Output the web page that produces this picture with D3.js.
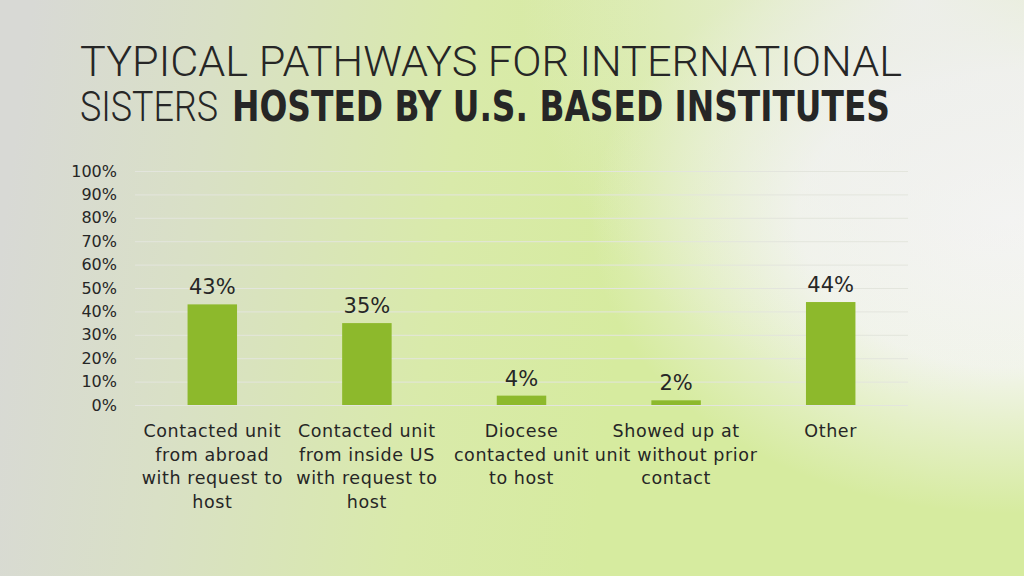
<!DOCTYPE html>
<html>
<head>
<meta charset="utf-8">
<script src="https://cdn.jsdelivr.net/npm/d3@7"></script>
<style>
  html, body { margin: 0; padding: 0; overflow: hidden; }
  body { width: 1024px; height: 576px; }
</style>
</head>
<body>
<script>
// chart data
var categories = [
  ["Contacted unit", "from abroad", "with request to", "host"],
  ["Contacted unit", "from inside US", "with request to", "host"],
  ["Diocese", "contacted unit", "to host"],
  ["Showed up at", "unit without prior", "contact"],
  ["Other"]
];
var values = [0.43, 0.35, 0.04, 0.02, 0.44];
var yTicks = [0, 0.1, 0.2, 0.3, 0.4, 0.5, 0.6, 0.7, 0.8, 0.9, 1.0];
var titleLine1 = "TYPICAL PATHWAYS FOR INTERNATIONAL";
var titleLine2a = "SISTERS";
var titleLine2b = "HOSTED BY U.S. BASED INSTITUTES";

var W = 1024, H = 576;
var font = "'DejaVu Sans', sans-serif";
var lightFont = "Roboto, 'Open Sans', sans-serif";
var boldFont = "'DejaVu Sans Condensed', 'DejaVu Sans', sans-serif";
var ink = "#262626";

var svg = d3.select("body")
            .append("svg")
            .attr("width", W)
            .attr("height", H);

// background //////////////////////////////////////////
var defs = svg.append("defs");

var base = defs.append("linearGradient").attr("id", "bgBase")
  .attr("gradientUnits", "userSpaceOnUse")
  .attr("x1", 0).attr("y1", 250).attr("x2", 620).attr("y2", 330);
base.append("stop").attr("offset", "0").attr("stop-color", "#d8d9d5");
base.append("stop").attr("offset", "0.3").attr("stop-color", "#d9e0c6");
base.append("stop").attr("offset", "0.7").attr("stop-color", "#d9eaaa");
base.append("stop").attr("offset", "1").attr("stop-color", "#d6eb9f");

var glow = defs.append("radialGradient").attr("id", "bgGlow")
  .attr("gradientUnits", "userSpaceOnUse")
  .attr("cx", 1010).attr("cy", 220).attr("r", 420)
  .attr("gradientTransform", "translate(1010,220) scale(1,0.7) translate(-1010,-220)");
glow.append("stop").attr("offset", "0").attr("stop-color", "#f6f6f4").attr("stop-opacity", 1);
glow.append("stop").attr("offset", "0.5").attr("stop-color", "#f4f5f1").attr("stop-opacity", 0.92);
glow.append("stop").attr("offset", "1").attr("stop-color", "#f2f4ec").attr("stop-opacity", 0);

var topFade = defs.append("radialGradient").attr("id", "bgTop")
  .attr("gradientUnits", "userSpaceOnUse")
  .attr("cx", 920).attr("cy", 0).attr("r", 400);
topFade.append("stop").attr("offset", "0").attr("stop-color", "#eeeeee").attr("stop-opacity", 0.9);
topFade.append("stop").attr("offset", "1").attr("stop-color", "#eeeeee").attr("stop-opacity", 0);

svg.append("rect").attr("width", W).attr("height", H).attr("fill", "url(#bgBase)");
svg.append("rect").attr("width", W).attr("height", H).attr("fill", "url(#bgGlow)");
svg.append("rect").attr("width", W).attr("height", H).attr("fill", "url(#bgTop)");

// title ///////////////////////////////////////////////
svg.append("text")
   .attr("x", 80).attr("y", 76)
   .attr("font-family", lightFont)
   .attr("font-weight", 300)
   .attr("font-size", 42)
   .attr("fill", ink)
   .attr("textLength", 822)
   .attr("lengthAdjust", "spacingAndGlyphs")
   .text(titleLine1);

svg.append("text")
   .attr("x", 80).attr("y", 121)
   .attr("font-family", lightFont)
   .attr("font-weight", 300)
   .attr("font-size", 42)
   .attr("fill", ink)
   .attr("textLength", 138)
   .attr("lengthAdjust", "spacingAndGlyphs")
   .text(titleLine2a);

svg.append("text")
   .attr("x", 232).attr("y", 121)
   .attr("font-family", boldFont)
   .attr("font-size", 42)
   .attr("font-weight", "bold")
   .attr("fill", ink)
   .attr("textLength", 658)
   .attr("lengthAdjust", "spacingAndGlyphs")
   .text(titleLine2b);

// chart ///////////////////////////////////////////////
var plot = {left: 135, right: 908, top: 171, bottom: 405};

var x = d3.scaleBand()
          .domain(d3.range(values.length))
          .range([plot.left, plot.right])
          .paddingInner(0.68)
          .paddingOuter(0.34);

var y = d3.scaleLinear()
          .domain([0, 1])
          .range([plot.bottom, plot.top]);

// gridlines
svg.append("g")
   .selectAll("line")
   .data(yTicks)
   .enter()
   .append("line")
   .attr("x1", plot.left)
   .attr("x2", plot.right)
   .attr("y1", function(d) { return y(d) + 0.5; })
   .attr("y2", function(d) { return y(d) + 0.5; })
   .style("stroke", "#e3e5dd")
   .style("stroke-width", 1);

// y axis labels
var yAxis = d3.axisLeft(y)
              .tickValues(yTicks)
              .tickFormat(d3.format(".0%"))
              .tickSize(0)
              .tickPadding(0);

var yg = svg.append("g")
            .attr("transform", "translate(117,0)")
            .call(yAxis);
yg.select(".domain").remove();
yg.selectAll("text")
  .attr("font-family", font)
  .attr("font-size", 16)
  .attr("fill", ink);

// bars
svg.selectAll("rect.bar")
   .data(values)
   .enter()
   .append("rect")
   .attr("class", "bar")
   .attr("x", function(d, i) { return x(i); })
   .attr("y", function(d) { return y(d); })
   .attr("width", x.bandwidth())
   .attr("height", function(d) { return y(0) - y(d); })
   .attr("fill", "#8db92c");

// data labels
svg.selectAll("text.val")
   .data(values)
   .enter()
   .append("text")
   .attr("class", "val")
   .attr("x", function(d, i) { return x(i) + x.bandwidth() / 2; })
   .attr("y", function(d) { return y(d) - 10; })
   .attr("text-anchor", "middle")
   .attr("font-family", font)
   .attr("font-size", 21)
   .attr("fill", ink)
   .text(function(d) { return Math.round(d * 100) + "%"; });

// category labels
var cat = svg.selectAll("text.cat")
   .data(categories)
   .enter()
   .append("text")
   .attr("class", "cat")
   .attr("text-anchor", "middle")
   .attr("font-family", font)
   .attr("font-size", 17.5)
   .attr("letter-spacing", 0.6)
   .attr("fill", ink);

cat.selectAll("tspan")
   .data(function(d, i) { return d.map(function(s) { return {s: s, i: i}; }); })
   .enter()
   .append("tspan")
   .attr("x", function(d) { return x(d.i) + x.bandwidth() / 2; })
   .attr("y", function(d, j) { return 437 + j * 23.5; })
   .text(function(d) { return d.s; });
</script>
</body>
</html>
